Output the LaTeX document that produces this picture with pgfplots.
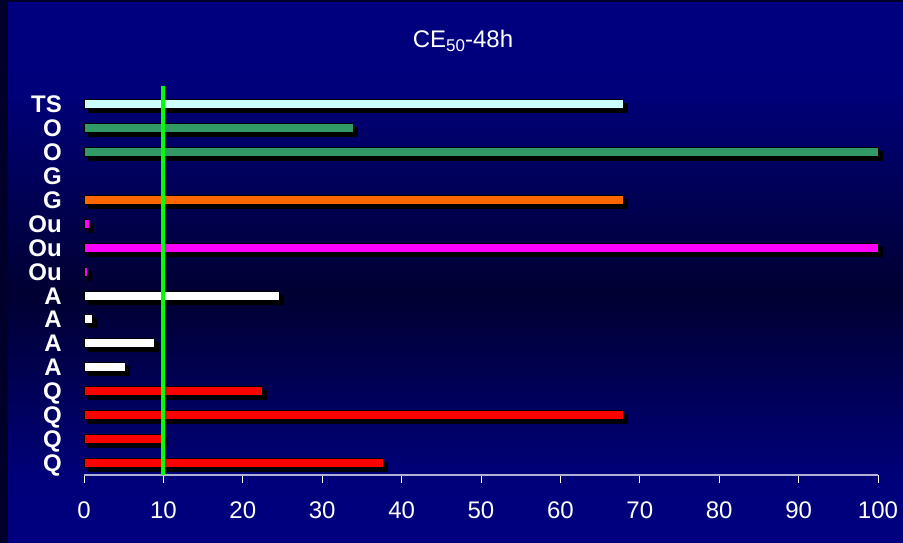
\documentclass[border=0pt]{standalone}
\usepackage{fontspec}
\setmainfont{Liberation Sans}
\usepackage{pgfplots}
\pgfplotsset{compat=1.18}

\definecolor{navy}{RGB}{0,0,128}
\definecolor{navyedge}{RGB}{0,0,122}
\definecolor{deepnavy}{RGB}{0,0,50}
\definecolor{stripnavy}{RGB}{0,0,42}
\definecolor{axisgray}{RGB}{175,175,215}
\definecolor{tsfill}{RGB}{204,255,255}
\definecolor{ofill}{RGB}{51,153,102}
\definecolor{gfill}{RGB}{255,102,0}
\definecolor{oufill}{RGB}{255,0,255}
\definecolor{qfill}{RGB}{255,0,0}
\definecolor{limitgreen}{RGB}{0,255,0}

% slide background: navy at top and bottom, darker band through the middle
\pgfdeclareverticalshading{slidebg}{100bp}{%
  color(0bp)=(navy); color(25bp)=(navy); color(30.8bp)=(navyedge);
  color(48bp)=(deepnavy); color(66.7bp)=(navyedge); color(75bp)=(navy);
  color(100bp)=(navy)}

\begin{document}
\begin{tikzpicture}
\useasboundingbox (0,0) rectangle (903pt,543pt);
\shade[shading=slidebg] (0,0) rectangle (903pt,543pt);
\fill[stripnavy] (0,0) rectangle (8pt,543pt);
\fill[stripnavy] (0,541pt) rectangle (903pt,543pt);

\node[anchor=base, text=white, font=\fontsize{24}{28}\selectfont, inner sep=0pt]
  at (463pt,495pt) {CE\raisebox{-3.7pt}{\fontsize{17}{20}\selectfont 50}-48h};

\begin{axis}[
  at={(84pt,68pt)}, anchor=south west,
  scale only axis, width=794pt, height=389pt,
  xmin=0, xmax=100, ymin=-0.5, ymax=15.76,
  axis x line*=bottom, axis y line*=left,
  x axis line style={draw=axisgray, line width=1.5pt, -},
  y axis line style={draw=none},
  xtick={0,10,...,100},
  ytick={0,...,15},
  yticklabels={Q,Q,Q,Q,A,A,A,A,Ou,Ou,Ou,G,G,O,O,TS},
  xtick align=outside, major tick length=8pt,
  xtick style={draw=white, line width=1pt},
  ytick style={draw=none},
  /pgf/number format/assume math mode=true,
  ticklabel style={text=white, inner sep=0pt},
  xticklabel style={font=\fontsize{24}{28}\selectfont, yshift=-19pt},
  yticklabel style={font=\bfseries\fontsize{24}{28}\selectfont,
    text height=17pt, text depth=0pt, xshift=-22pt},
  bar width=9pt, bar shift=0pt,
  clip=false,
]
% drop shadows behind the bars
\addplot[xbar, fill=black, draw=black, line width=1pt, xshift=4pt, yshift=-4pt]
  coordinates {(37.7,0) (9.85,1) (68,2) (22.5,3) (5.2,4) (8.85,5) (1.1,6)
    (24.6,7) (0.45,8) (100,9) (0.7,10) (68,11) (100,13) (33.9,14) (68,15)};
% Q
\addplot[xbar, fill=qfill, draw=black, line width=1pt]
  coordinates {(37.7,0) (9.85,1) (68,2) (22.5,3)};
% A
\addplot[xbar, fill=white, draw=black, line width=1pt]
  coordinates {(5.2,4) (8.85,5) (1.1,6) (24.6,7)};
% Ou
\addplot[xbar, fill=oufill, draw=black, line width=1pt]
  coordinates {(0.45,8) (100,9) (0.7,10)};
% G (second G is zero)
\addplot[xbar, fill=gfill, draw=black, line width=1pt]
  coordinates {(68,11)};
% O
\addplot[xbar, fill=ofill, draw=black, line width=1pt]
  coordinates {(100,13) (33.9,14)};
% TS
\addplot[xbar, fill=tsfill, draw=black, line width=1pt]
  coordinates {(68,15)};
% limit line at 10
\addplot[draw=limitgreen, line width=4pt] coordinates {(10,-0.5) (10,15.76)};
\end{axis}
\end{tikzpicture}
\end{document}
